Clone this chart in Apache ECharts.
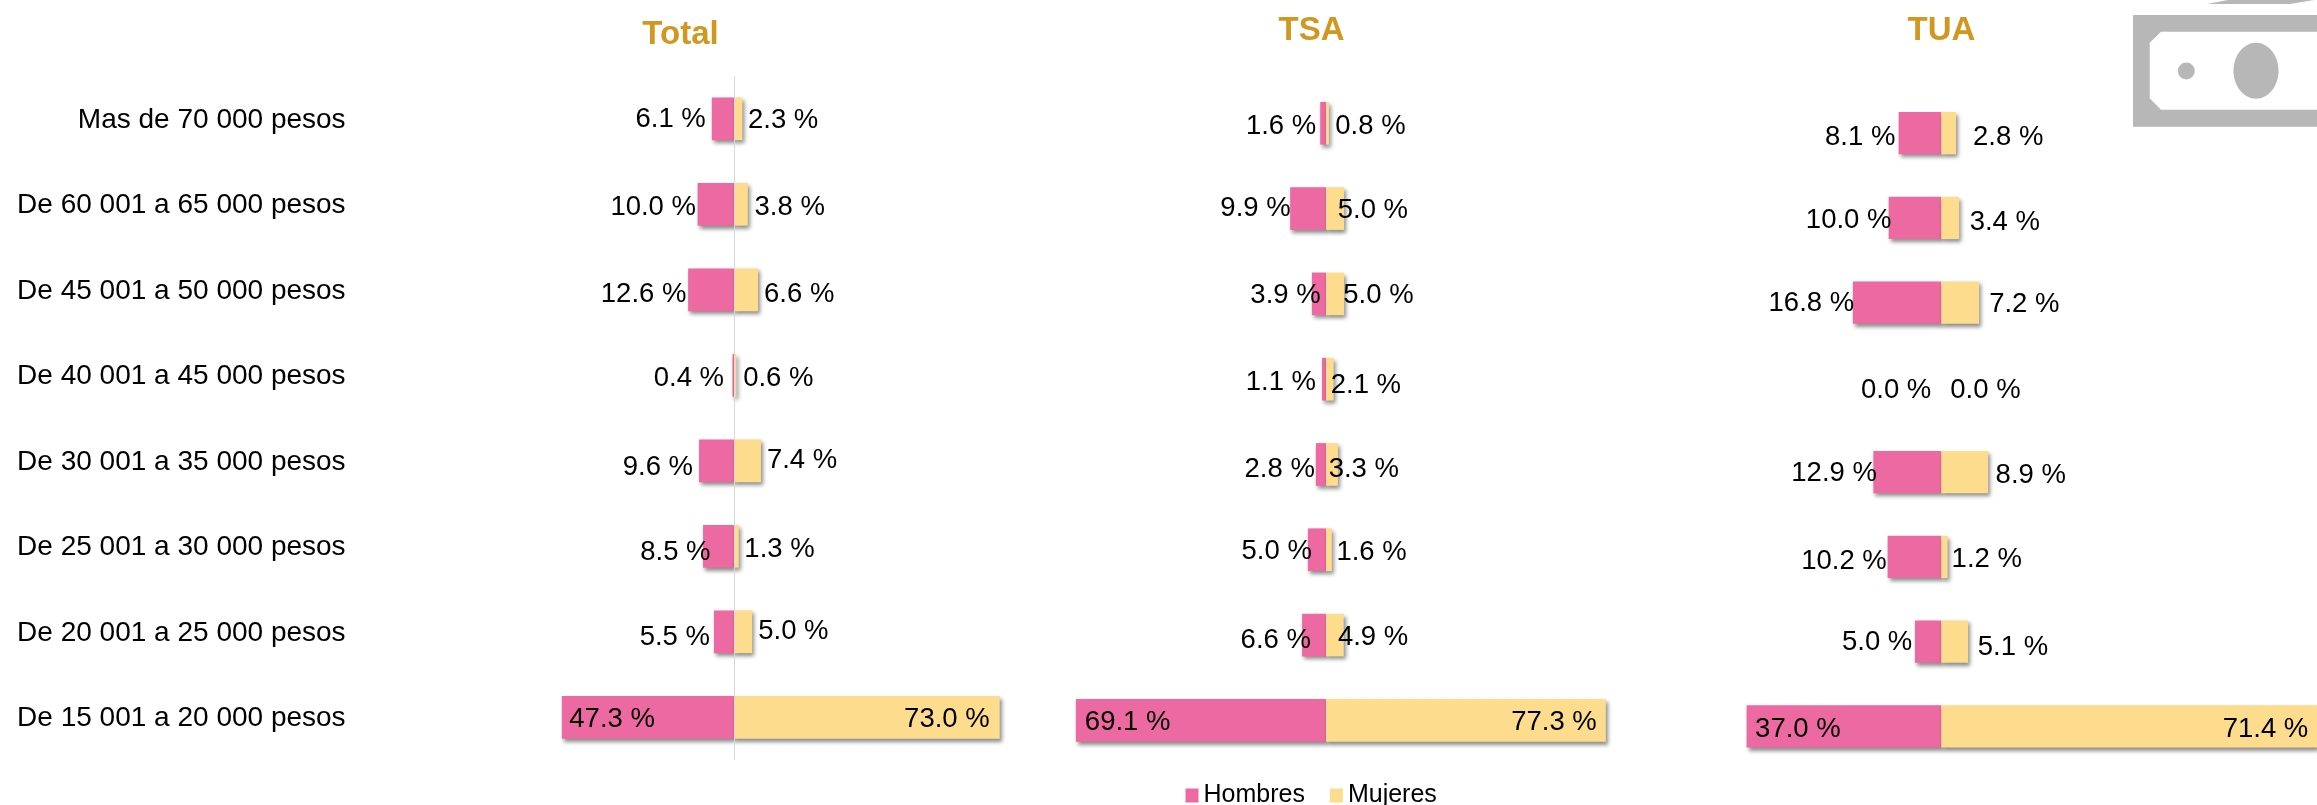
<!DOCTYPE html>
<html>
<head>
<meta charset="utf-8">
<style>html,body{margin:0;padding:0;background:#fff}#c{width:2317px;height:805px}</style>
<script src="https://cdn.jsdelivr.net/npm/echarts@6/dist/echarts.min.js"></script>
</head>
<body>
<div id="c"></div>
<script>
const categories = ['Mas de 70 000 pesos','De 60 001 a 65 000 pesos','De 45 001 a 50 000 pesos','De 40 001 a 45 000 pesos','De 30 001 a 35 000 pesos','De 25 001 a 30 000 pesos','De 20 001 a 25 000 pesos','De 15 001 a 20 000 pesos'];
const totalHombres = [6.1,10.0,12.6,0.4,9.6,8.5,5.5,47.3];
const totalMujeres = [2.3,3.8,6.6,0.6,7.4,1.3,5.0,73.0];
const tsaHombres = [1.6,9.9,3.9,1.1,2.8,5.0,6.6,69.1];
const tsaMujeres = [0.8,5.0,5.0,2.1,3.3,1.6,4.9,77.3];
const tuaHombres = [8.1,10.0,16.8,0.0,12.9,10.2,5.0,37.0];
const tuaMujeres = [2.8,3.4,7.2,0.0,8.9,1.2,5.1,71.4];

// Hand-placed label nudges of the original, relative to the bar end [dx, dy]
const nudgeTotalH = [[-6,-1],[-1.6,1.5],[-1.7,3],[-8.5,1.5],[-6,5],[7.5,4],[-4,4],[7.5,0]];
const nudgeTotalM = [[5.6,0],[6.7,1.5],[6,3],[7,1.5],[6,-2.7],[5.6,1],[6,-2.7],[-10,0]];
const nudgeTsaH = [[-4,0.7],[0.5,-2.6],[8.8,-0.6],[-6,0.8],[-1,2.5],[4,0],[8.8,3],[9,0]];
const nudgeTsaM = [[6.4,0.7],[-6.4,0],[-0.8,-0.6],[-2.9,4],[-9.3,2.5],[4.6,1],[-5.8,0],[-9,0]];
const nudgeTuaH = [[-3.3,2.5],[2.8,0],[1.3,-1.7],[-10,1],[3.5,-1],[-0.8,2.3],[-2.7,-0.8],[8.5,1]];
const nudgeTuaM = [[17,2.5],[10.5,2.7],[10,0],[9,1],[7.5,1],[4,0],[9.7,4],[-8.7,1]];

const PINK = '#ED69A1', YELLOW = '#FDDC8D', GOLD = '#D1971F', GREY = '#B7B7B7';
const FONT = '"Liberation Sans", Arial, sans-serif';
const LABEL_SIZE = 27.5;
const LABEL_DROP = 2;

const panels = [
  {title:'Total', h:totalHombres, m:totalMujeres, nh:nudgeTotalH, nm:nudgeTotalM, left:515.6, width:509.6, top:76, height:684, min:-60, max:80, titleX:675.5, titleY:29.5},
  {title:'TSA', h:tsaHombres, m:tsaMujeres, nh:nudgeTsaH, nm:nudgeTsaM, left:1036.4, width:579.2, top:80.6, height:682.4, min:-80, max:80, titleX:1306.5, titleY:25.5},
  {title:'TUA', h:tuaHombres, m:tuaMujeres, nh:nudgeTuaH, nm:nudgeTuaM, left:1730.8, width:587.1, top:90.8, height:678, min:-40, max:71.4, titleX:1936.5, titleY:25.5}
];

const shadow = {shadowColor:'rgba(0,0,0,0.45)', shadowBlur:4, shadowOffsetX:2, shadowOffsetY:3};
const fmt = p => Math.abs(p.value).toFixed(1) + ' %';
const barLabel = (nudge, last, side) => (v, i) => ({
  value: v,
  label: {
    position: i === last ? (side === 'left' ? 'insideLeft' : 'insideRight') : side,
    distance: 0,
    offset: [nudge[i][0], nudge[i][1] + LABEL_DROP]
  }
});

const series = [];
panels.forEach((p, k) => {
  series.push({
    name:'Hombres', type:'bar', stack:'s'+k, xAxisIndex:k, yAxisIndex:k, barWidth:'50%',
    itemStyle:Object.assign({color:PINK}, shadow),
    label:{show:true, formatter:fmt, color:'#000', fontSize:LABEL_SIZE, fontFamily:FONT},
    data:p.h.map(v => -v).map(barLabel(p.nh, p.h.length-1, 'left')),
    markLine: k === 0 ? {silent:true, symbol:'none', animation:false, z:6, label:{show:false},
      lineStyle:{color:'#D9D9D9', width:1, type:'solid'}, data:[{xAxis:0}]} : undefined
  });
  series.push({
    name:'Mujeres', type:'bar', stack:'s'+k, xAxisIndex:k, yAxisIndex:k, barWidth:'50%',
    itemStyle:Object.assign({color:YELLOW}, shadow),
    label:{show:true, formatter:fmt, color:'#000', fontSize:LABEL_SIZE, fontFamily:FONT},
    data:p.m.map(barLabel(p.nm, p.m.length-1, 'right'))
  });
});

const chart = echarts.init(document.getElementById('c'), null, {renderer:'canvas'});
chart.setOption({
  animation:false,
  backgroundColor:'#fff',
  title:panels.map(p => ({
    text:p.title, left:p.titleX, top:p.titleY, textAlign:'center', textVerticalAlign:'middle',
    textStyle:{color:GOLD, fontSize:33, fontWeight:'bold', fontFamily:FONT}
  })),
  legend:{
    data:['Hombres','Mujeres'], left:1180.5, top:778, icon:'rect', itemWidth:13, itemHeight:14, itemGap:25,
    itemStyle:{shadowBlur:0, shadowOffsetX:0, shadowOffsetY:0, shadowColor:'transparent'},
    textStyle:{color:'#000', fontSize:25, fontFamily:FONT}
  },
  grid:panels.map(p => ({left:p.left, width:p.width, top:p.top, height:p.height, containLabel:false})),
  xAxis:panels.map((p,k) => ({type:'value', gridIndex:k, min:p.min, max:p.max, show:false, splitLine:{show:false}})),
  yAxis:panels.map((p,k) => ({
    type:'category', gridIndex:k, inverse:true, data:categories,
    axisLine:{show:false, onZero:false}, axisTick:{show:false}, splitLine:{show:false},
    axisLabel:k === 0 ? {
      show:true, margin:170, align:'right', formatter:'{a|{value}}',
      rich:{a:{color:'#000', fontSize:28, fontFamily:FONT, padding:[3,0,0,0]}}
    } : {show:false}
  })),
  series:series,
  graphic:[
    {type:'polygon', silent:true, shape:{points:[[2133,15],[2317,15],[2317,126.7],[2133,126.7]]}, style:{fill:GREY}},
    {type:'polygon', silent:true, shape:{points:[[2161,31.7],[2317,31.7],[2317,109.7],[2161,109.7],[2149.7,98.3],[2149.7,42.7]]}, style:{fill:'#fff'}},
    {type:'circle', silent:true, shape:{cx:2186.3, cy:71, r:8.5}, style:{fill:GREY}},
    {type:'ellipse', silent:true, shape:{cx:2256, cy:70.7, rx:22.5, ry:28}, style:{fill:GREY}},
    {type:'polygon', silent:true, shape:{points:[[2207,4],[2228,0],[2314,0],[2290,4]]}, style:{fill:GREY}}
  ]
});
</script>
</body>
</html>
